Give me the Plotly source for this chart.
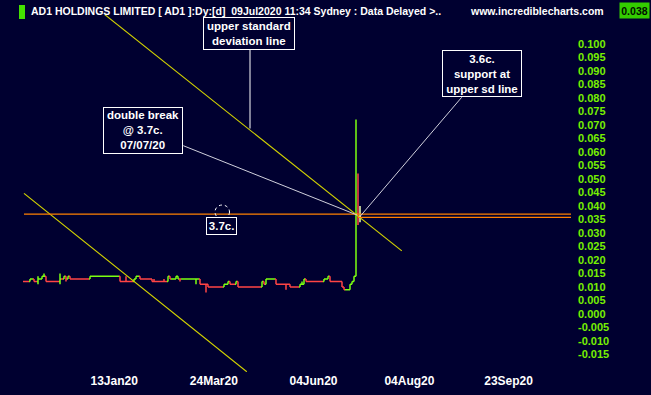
import plotly.graph_objects as go

# ---------------- data (bar index = trading day, 0 = first visible bar) ----------------
run_len   = [3, 2, 2, 2, 2, 7, 1, 1, 1, 1, 1, 10, 15, 7, 1, 2, 6, 8, 1, 1, 2, 1, 1, 1, 9, 4,
             8, 2, 1, 3, 1, 12, 1, 1, 5, 7, 5, 2, 1, 9, 2, 1, 6, 1, 1, 2, 1, 1, 1, 1, 1, 1]
run_close = [0.012, 0.013, 0.012, 0.013, 0.014, 0.012, 0.013, 0.013, 0.014, 0.013, 0.014,
             0.013, 0.014, 0.012, 0.013, 0.014, 0.013, 0.012, 0.014, 0.013, 0.013, 0.014,
             0.013, 0.013, 0.013, 0.011, 0.010, 0.011, 0.012, 0.011, 0.012, 0.010, 0.012,
             0.011, 0.013, 0.011, 0.010, 0.011, 0.013, 0.012, 0.013, 0.014, 0.012, 0.010,
             0.009, 0.009, 0.011, 0.012, 0.014, 0.037, 0.036, 0.036]
run_col   = ["r", "g", "r", "g", "g", "r", "g", "r", "g", "r", "g", "r", "g", "r", "g", "g",
             "r", "r", "g", "r", "g", "g", "g", "r", "g", "r", "r", "g", "g", "r", "g", "r",
             "g", "r", "g", "r", "r", "g", "g", "r", "g", "g", "r", "r", "r", "g", "g", "g",
             "g", "g", "r", "w"]
wick_bar = [7, 10, 18, 21, 51, 65, 70, 73, 78, 86, 91, 120, 131, 139, 140, 166, 167, 168]
wick_hi  = [0.014, 0.015, 0.015, 0.013, 0.014, 0.013, 0.013, 0.014, 0.013, 0.013, 0.011,
            0.012, 0.011, 0.012, 0.013, 0.072, 0.052, 0.040]
wick_lo  = [0.011, 0.014, 0.011, 0.012, 0.012, 0.012, 0.012, 0.013, 0.012, 0.011, 0.008,
            0.011, 0.009, 0.011, 0.011, 0.014, 0.033, 0.034]

# trend / support lines (bar index, price)
sd_upper_x, sd_upper_y = [40.2, 188.9], [0.1110, 0.0234]
sd_lower_x, sd_lower_y = [0.0, 111.4], [0.0447, -0.0214]
support37_x, support37_y = [0, 276], [0.037, 0.037]
support36_x, support36_y = [167, 276], [0.0358, 0.0358]

x_tick_vals = [45.1, 94.9, 144.75, 192.7, 242.3]
x_tick_text = ["13Jan20", "24Mar20", "04Jun20", "04Aug20", "23Sep20"]
y_tick_vals = [0.100, 0.095, 0.090, 0.085, 0.080, 0.075, 0.070, 0.065, 0.060, 0.055, 0.050,
               0.045, 0.040, 0.035, 0.030, 0.025, 0.020, 0.015, 0.010, 0.005, 0.000,
               -0.005, -0.010, -0.015]
y_tick_text = ["0.100", "0.095", "0.090", "0.085", "0.080", "0.075", "0.070", "0.065",
               "0.060", "0.055", "0.050", "0.045", "0.040", "0.035", "0.030", "0.025",
               "0.020", "0.015", "0.010", "0.005", "0.000", "-0.005", "-0.010", "-0.015"]

# ---------------- build bars ----------------
closes, cols = [], []
for n, c, col in zip(run_len, run_close, run_col):
    closes += [c] * n
    cols += [col] * n
opens = [closes[0]] + closes[:-1]
highs = [max(o, c) for o, c in zip(opens, closes)]
lows = [min(o, c) for o, c in zip(opens, closes)]
for b, h, l in zip(wick_bar, wick_hi, wick_lo):
    highs[b] = max(highs[b], h)
    lows[b] = min(lows[b], l)

BG = "#000030"
GREEN = "#7cff10"
RED = "#ff4444"
PALE = "#e8ffb0"
ORANGE = "#ff8000"
YELLOW = "#d4d400"
TICKGREEN = "#77f000"
FONT = "Liberation Sans, Arial, sans-serif"

fig = go.Figure()
for key, colour in (("r", RED), ("g", GREEN), ("w", PALE)):
    idx = [i for i, c in enumerate(cols) if c == key]
    fig.add_trace(go.Ohlc(
        x=idx, open=[opens[i] for i in idx], high=[highs[i] for i in idx],
        low=[lows[i] for i in idx], close=[closes[i] for i in idx],
        increasing=dict(line=dict(color=colour, width=1.5)),
        decreasing=dict(line=dict(color=colour, width=1.5)),
        tickwidth=0.5, hoverinfo="skip"))

for xs, ys, colour, w in ((sd_upper_x, sd_upper_y, YELLOW, 1.1), (sd_lower_x, sd_lower_y, YELLOW, 1.1),
                          (support37_x, support37_y, ORANGE, 1.4), (support36_x, support36_y, ORANGE, 1.4)):
    fig.add_trace(go.Scatter(x=xs, y=ys, mode="lines",
                             line=dict(color=colour, width=w), hoverinfo="skip"))

# ---------------- layout ----------------
PL, PR, PT, PB = 0, 571, 15, 372


def fx(px):
    return (px - PL) / (PR - PL)


def fy(py):
    return (PB - py) / (PB - PT)


fig.update_layout(
    width=651, height=395, margin=dict(l=PL, r=651 - PR, t=PT, b=395 - PB),
    paper_bgcolor=BG, plot_bgcolor=BG, showlegend=False,
    xaxis=dict(range=[-12, 273.5], showgrid=False, zeroline=False, showline=False,
               rangeslider=dict(visible=False), tickmode="array",
               tickvals=x_tick_vals, ticktext=x_tick_text, ticks="",
               tickfont=dict(family=FONT, size=12, color="white", weight="bold")),
    yaxis=dict(range=[-0.021481, 0.110741], side="right", showgrid=False, zeroline=False,
               showline=False, tickmode="array", tickvals=y_tick_vals, ticktext=y_tick_text,
               ticks="", ticklabelstandoff=6,
               tickfont=dict(family=FONT, size=11, color=TICKGREEN, weight="bold")),
)

annotations = []
shapes = []


def box(text, x0, y0, x1, y1, size=11.5):
    annotations.append(dict(
        xref="paper", yref="paper", x=fx((x0 + x1) / 2), y=fy((y0 + y1) / 2),
        xanchor="center", yanchor="middle", showarrow=False, text=text, align="center",
        width=x1 - x0 - 4, height=y1 - y0 - 4, bordercolor="white", borderwidth=1,
        borderpad=1, bgcolor=BG,
        font=dict(family=FONT, size=size, color="white", weight="bold")))


def seg(x0, y0, x1, y1, colour="#d0d0dc", width=1, dash="solid"):
    shapes.append(dict(type="line", xref="paper", yref="paper", x0=fx(x0), y0=fy(y0),
                       x1=fx(x1), y1=fy(y1), line=dict(color=colour, width=width, dash=dash)))


# leader lines
seg(250, 49.3, 250, 128.5, colour="#ffffff")
seg(183.3, 145.7, 357, 215)
seg(461.7, 97.3, 360, 216.5)

box("upper standard<br>deviation line", 203.3, 16.7, 295, 49.3)
box("double break<br>@ 3.7c.<br>07/07/20", 103.3, 106.7, 183.3, 153.3)
box("3.6c.<br>support at<br>upper sd line", 441.7, 50, 521.7, 97.3)
box("3.7c.", 206, 216.7, 237.3, 234.3)

# dashed circle
shapes.append(dict(type="circle", xref="paper", yref="paper", x0=fx(215), x1=fx(229.5),
                   y0=fy(219), y1=fy(205), line=dict(color="white", width=1, dash="3px,3px")))

# header
shapes.append(dict(type="rect", xref="paper", yref="paper", x0=fx(19), x1=fx(25),
                   y0=fy(19), y1=fy(5), fillcolor="#44e000", line=dict(width=0)))
annotations.append(dict(xref="paper", yref="paper", x=fx(29), y=fy(10.5), xanchor="left",
                        yanchor="middle", showarrow=False,
                        text="AD1 HOLDINGS LIMITED [ AD1 ]:Dy:[d] \u00a009Jul2020 11:34 Sydney : Data Delayed >..",
                        font=dict(family=FONT, size=10.5, color="white", weight="bold")))
annotations.append(dict(xref="paper", yref="paper", x=fx(468), y=fy(10.5), xanchor="left",
                        yanchor="middle", showarrow=False, text="www.incrediblecharts.com",
                        font=dict(family=FONT, size=10.5, color="white", weight="bold")))
annotations.append(dict(xref="paper", yref="paper", x=fx(634), y=fy(10.5), xanchor="center",
                        yanchor="middle", showarrow=False, text="0.038", bgcolor="#33cc00",
                        width=27, height=13, borderpad=1,
                        font=dict(family=FONT, size=10.5, color="#001000", weight="bold")))

fig.update_layout(annotations=annotations, shapes=shapes)
fig.write_html("out.html", config={"displayModeBar": False, "staticPlot": True},
               post_script="document.body.style.margin='0';document.body.style.overflow='hidden';")
